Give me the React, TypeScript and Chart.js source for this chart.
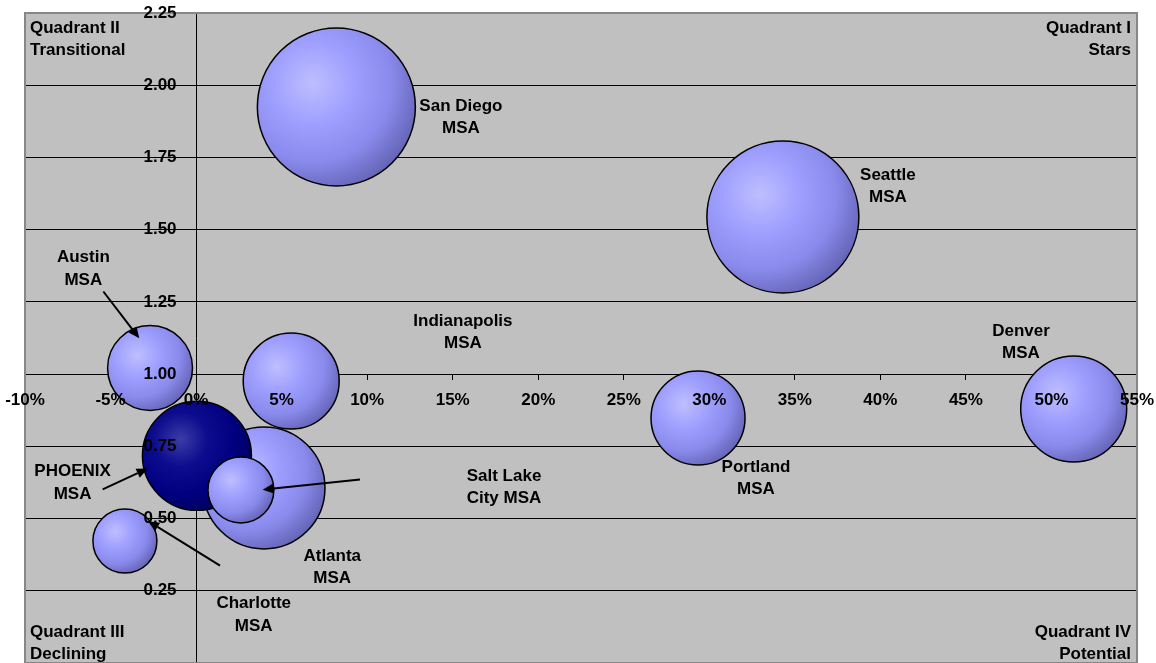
import React, { useEffect, useRef } from 'react';
import { Chart, registerables } from 'chart.js';

Chart.register(...registerables);

// Metro areas, largest bubble first so the smaller ones are drawn on top
const cities = [
  'San Diego MSA', 'Seattle MSA', 'Atlanta MSA', 'PHOENIX MSA', 'Denver MSA',
  'Indianapolis MSA', 'Portland MSA', 'Austin MSA', 'Salt Lake City MSA', 'Charlotte MSA',
];
const growthPct = [8.2, 34.3, 3.97, 0.05, 51.3, 5.56, 29.34, -2.69, 2.62, -4.16];
const indexValue = [1.925, 1.544, 0.606, 0.717, 0.879, 0.976, 0.848, 1.021, 0.599, 0.422];
const bubbleSize = [100, 92.5, 59.6, 47.6, 45, 36.9, 35.4, 28.9, 17.4, 16.4];

const featuredCity = 'PHOENIX MSA';

// Callout text for each bubble, anchored in data units (centre of the first line)
const labelLines = [
  ['San Diego', 'MSA'], ['Seattle', 'MSA'], ['Atlanta', 'MSA'], ['PHOENIX', 'MSA'], ['Denver', 'MSA'],
  ['Indianapolis', 'MSA'], ['Portland', 'MSA'], ['Austin', 'MSA'], ['Salt Lake', 'City MSA'], ['Charlotte', 'MSA'],
];
const labelX = [15.48, 40.44, 7.96, -7.22, 48.22, 15.6, 32.73, -6.59, 18.0, 3.37];
const labelY = [1.928, 1.689, 0.37, 0.663, 1.149, 1.184, 0.678, 1.404, 0.647, 0.206];

// Leader arrows in data units: [tailX, tailY, tipX, tipY]
const arrows: (number[] | null)[] = [
  null, null, null, [-5.46, 0.601, -2.83, 0.673], null,
  null, null, [-5.42, 1.286, -3.32, 1.124], [9.58, 0.635, 3.89, 0.6], [1.4, 0.337, -2.8, 0.491],
];

// Axis ticks
const xTickValues = [-10, -5, 0, 5, 10, 15, 20, 25, 30, 35, 40, 45, 50, 55];
const xTickLabels = ['-10%', '-5%', '0%', '5%', '10%', '15%', '20%', '25%', '30%', '35%', '40%', '45%', '50%', '55%'];
const yTickValues = [0.25, 0.5, 0.75, 1.0, 1.25, 1.5, 1.75, 2.0, 2.25];
const yTickLabels = ['0.25', '0.50', '0.75', '1.00', '1.25', '1.50', '1.75', '2.00', '2.25'];

const quadrants = [
  { lines: ['Quadrant II', 'Transitional'], corner: 'tl' },
  { lines: ['Quadrant I', 'Stars'], corner: 'tr' },
  { lines: ['Quadrant III', 'Declining'], corner: 'bl' },
  { lines: ['Quadrant IV', 'Potential'], corner: 'br' },
];

const FONT = 'bold 17px "Liberation Sans", Arial, Helvetica, sans-serif';
const LINE = 22.5;
const MAX_RADIUS = 79;
const maxSize = Math.max(...bubbleSize);

function bubbleFill(ctx: any) {
  const chart = ctx.chart;
  const raw = ctx.raw;
  const featured = cities[ctx.dataIndex] === featuredCity;
  const flat = featured ? '#000080' : '#9999FF';
  if (!raw || !chart.scales || !chart.scales.x || !chart.scales.y) return flat;
  const cx = chart.scales.x.getPixelForValue(raw.x);
  const cy = chart.scales.y.getPixelForValue(raw.y);
  const r = raw.r;
  if (![cx, cy, r].every((v) => Number.isFinite(v)) || r <= 0) return flat;
  const hx = cx - 0.3 * r;
  const hy = cy - 0.3 * r;
  const g = chart.ctx.createRadialGradient(hx, hy, 0, hx, hy, r * 1.42);
  if (featured) {
    g.addColorStop(0, '#3C3CA6');
    g.addColorStop(0.35, '#0C0C8E');
    g.addColorStop(0.7, '#000080');
    g.addColorStop(1, '#00005E');
  } else {
    g.addColorStop(0, '#BEBEFF');
    g.addColorStop(0.38, '#9E9EFF');
    g.addColorStop(0.7, '#8A8AEC');
    g.addColorStop(1, '#6464B6');
  }
  return g;
}

// Axes crossing inside the plot take no room of their own
function noRoom(s: any) {
  s.paddingLeft = 0;
  s.paddingRight = 0;
  s.paddingTop = 0;
  s.paddingBottom = 0;
  if (s.isHorizontal()) s.height = 0;
  else s.width = 0;
}

const plotFrame = {
  id: 'plotFrame',
  beforeDraw(chart: any) {
    const { ctx, chartArea: a } = chart;
    ctx.save();
    ctx.fillStyle = '#C0C0C0';
    ctx.fillRect(a.left, a.top, a.right - a.left, a.bottom - a.top);
    ctx.restore();
  },
  beforeDatasetsDraw(chart: any) {
    const { ctx, chartArea: a } = chart;
    ctx.save();
    ctx.strokeStyle = '#878787';
    ctx.lineWidth = 2;
    ctx.strokeRect(a.left, a.top, a.right - a.left, a.bottom - a.top);
    ctx.restore();
  },
};

function drawArrow(ctx: CanvasRenderingContext2D, x1: number, y1: number, x2: number, y2: number) {
  const ang = Math.atan2(y2 - y1, x2 - x1);
  const head = 11;
  const half = 5;
  const bx = x2 - head * Math.cos(ang);
  const by = y2 - head * Math.sin(ang);
  ctx.beginPath();
  ctx.moveTo(x1, y1);
  ctx.lineTo(bx, by);
  ctx.stroke();
  ctx.beginPath();
  ctx.moveTo(x2, y2);
  ctx.lineTo(bx + half * Math.sin(ang), by - half * Math.cos(ang));
  ctx.lineTo(bx - half * Math.sin(ang), by + half * Math.cos(ang));
  ctx.closePath();
  ctx.fill();
}

const annotations = {
  id: 'annotations',
  afterDatasetsDraw(chart: any) {
    const { ctx, chartArea: a } = chart;
    const xs = chart.scales.x;
    const ys = chart.scales.y;
    ctx.save();
    ctx.font = FONT;
    ctx.fillStyle = '#000';
    ctx.strokeStyle = '#000';
    ctx.lineWidth = 2;
    ctx.textBaseline = 'middle';

    // leader arrows
    arrows.forEach((ar) => {
      if (!ar) return;
      drawArrow(ctx, xs.getPixelForValue(ar[0]), ys.getPixelForValue(ar[1]),
        xs.getPixelForValue(ar[2]), ys.getPixelForValue(ar[3]));
    });

    // bubble callouts
    ctx.textAlign = 'center';
    labelLines.forEach((lines, i) => {
      const px = xs.getPixelForValue(labelX[i]);
      const py = ys.getPixelForValue(labelY[i]);
      lines.forEach((t, k) => ctx.fillText(t, px, py + k * LINE));
    });

    // quadrant captions
    quadrants.forEach((q) => {
      const right = q.corner[1] === 'r';
      const top = q.corner[0] === 't';
      ctx.textAlign = right ? 'right' : 'left';
      const x = right ? a.right - 6 : a.left + 5;
      const y0 = top ? a.top + 15 : a.bottom - 31;
      q.lines.forEach((t, k) => ctx.fillText(t, x, y0 + k * LINE));
    });

    // axis tick labels sit above the bubbles
    const axisY = ys.getPixelForValue(1);
    const axisX = xs.getPixelForValue(0);
    ctx.textAlign = 'center';
    xs.ticks.forEach((t: any) => {
      const idx = xTickValues.indexOf(t.value);
      if (idx < 0) return;
      ctx.fillText(xTickLabels[idx], xs.getPixelForValue(t.value), axisY + 26);
    });
    ctx.textAlign = 'right';
    ys.ticks.forEach((t: any) => {
      const idx = yTickValues.indexOf(t.value);
      if (idx < 0) return;
      ctx.fillText(yTickLabels[idx], axisX - 19.5, ys.getPixelForValue(t.value));
    });
    ctx.restore();
  },
};

export default function App() {
  const ref = useRef<HTMLCanvasElement>(null);

  useEffect(() => {
    const canvas = ref.current;
    if (!canvas) return;
    const chart = new Chart(canvas, {
      type: 'bubble',
      data: {
        datasets: [
          {
            label: 'Metro areas',
            data: cities.map((_, i) => ({
              x: growthPct[i],
              y: indexValue[i],
              r: MAX_RADIUS * Math.sqrt(bubbleSize[i] / maxSize),
            })),
            backgroundColor: bubbleFill as any,
            borderColor: '#000',
            borderWidth: 1.5,
          },
        ],
      },
      options: {
        responsive: false,
        animation: false,
        events: [],
        layout: { autoPadding: false, padding: { left: 25, right: 19, top: 13, bottom: 17 } } as any,
        plugins: {
          legend: { display: false },
          tooltip: { enabled: false },
        },
        scales: {
          x: {
            type: 'linear',
            min: -10,
            max: 55,
            position: { y: 1 } as any,
            afterBuildTicks: (s: any) => {
              s.ticks = xTickValues.map((v) => ({ value: v }));
            },
            afterFit: noRoom,
            ticks: { display: false },
            grid: { drawOnChartArea: false, drawTicks: true, tickLength: 5, color: '#000', lineWidth: 1 },
            border: { display: true, color: '#000', width: 1 },
          },
          y: {
            type: 'linear',
            min: 0,
            max: 2.25,
            position: { x: 0 } as any,
            afterBuildTicks: (s: any) => {
              s.ticks = yTickValues.map((v) => ({ value: v }));
            },
            afterFit: noRoom,
            ticks: { display: false },
            grid: {
              drawOnChartArea: true,
              drawTicks: true,
              tickLength: 6,
              tickColor: '#000',
              color: (c: any) => (c.tick && c.tick.value === 2.25 ? 'rgba(0,0,0,0)' : '#000'),
              lineWidth: 1,
            },
            border: { display: true, color: '#000', width: 1 },
          },
        },
      },
      plugins: [plotFrame, annotations],
    });
    return () => chart.destroy();
  }, []);

  return (
    <div style={{ position: 'fixed', left: 0, top: 0, width: 1156, height: 663, overflow: 'hidden', background: '#fff' }}>
      <canvas ref={ref} width={1156} height={680} style={{ display: 'block' }} />
    </div>
  );
}
